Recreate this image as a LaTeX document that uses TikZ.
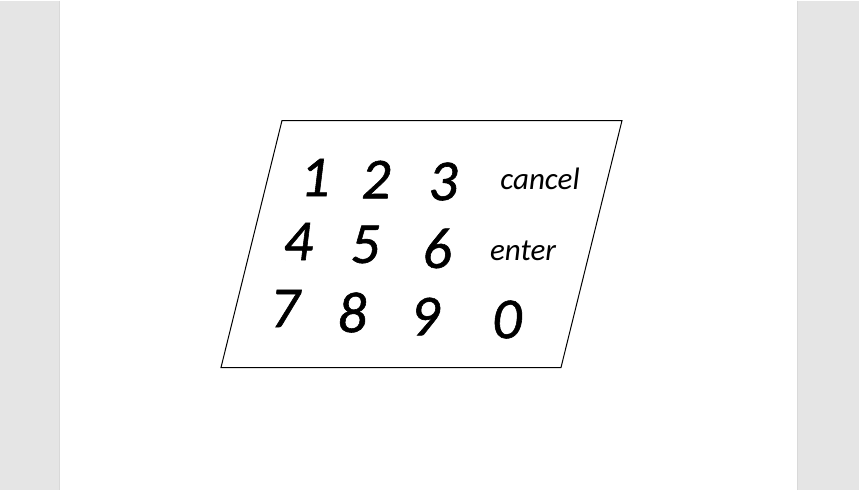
\documentclass[tikz,border=0pt]{standalone}
\usepackage{fontspec}
\setmainfont{Carlito}
\newfontfamily\padfont{Carlito}[RawFeature={embolden=1}]
\usetikzlibrary{positioning}

\begin{document}
\begin{tikzpicture}[
  x=1pt, y=-1pt, % 按像素坐标
  key/.style={font=\padfont\itshape\fontsize{58}{58}\selectfont, inner sep=0pt},
  word/.style={font=\itshape\fontsize{31}{31}\selectfont, inner sep=0pt}
]

% 背景
\fill[gray!20] (0,0) rectangle (859,489);
\fill[white] (60,0) rectangle (797,489);
\draw[gray!30, line width=1pt] (59.5,0) -- (59.5,489);
\draw[gray!30, line width=1pt] (797.5,0) -- (797.5,489);

% 键盘外框
\coordinate (tl) at (282,120);
\coordinate (tr) at (622,120);
\coordinate (br) at (561,367);
\coordinate (bl) at (221,367);
\draw[line width=1pt] (tl) -- (tr) -- (br) -- (bl) -- cycle;

% 第一行
\node[key] (k1) at (315,177) {1};
\node[key] (k2) at (376,179) {2};
\node[key] (k3) at (443,181) {3};
\node[word] (cancel) at (540,178) {cancel};

% 第二行
\node[key] (k4) at (298,241) {4};
\node[key] (k5) at (365,244) {5};
\node[key] (k6) at (437,248) {6};
\node[word] (enter) at (523,250) {enter};

% 第三行
\node[key] (k7) at (285,308) {7};
\node[key] (k8) at (352,312) {8};
\node[key] (k9) at (425,316) {9};
\node[key] (k0) at (507,319) {0};
\end{tikzpicture}
\end{document}
